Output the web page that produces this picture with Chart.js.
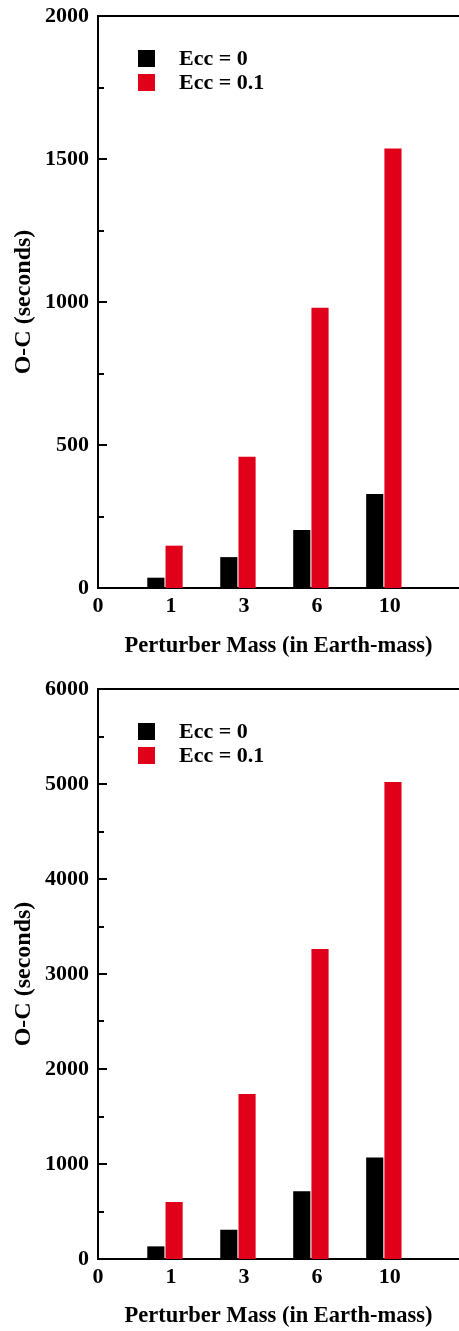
<!DOCTYPE html>
<html>
<head>
<meta charset="utf-8">
<script src="https://cdn.jsdelivr.net/npm/chart.js@4.4.1/dist/chart.umd.min.js"></script>
<style>
  html, body { margin: 0; padding: 0; background: #fff; }
  .panel { position: relative; width: 459px; }
  #topPanel { height: 666px; }
  #bottomPanel { height: 665px; }
</style>
</head>
<body>
<div class="panel" id="topPanel"><canvas id="topChart"></canvas></div>
<div class="panel" id="bottomPanel"><canvas id="bottomChart"></canvas></div>
<script>
// ── Data ─────────────────────────────────────────────────────────
const MASSES = ["1", "3", "6", "10"];          // perturber mass (Earth masses)
const X_TICKS = ["0", "1", "3", "6", "10"];
const SERIES_LABELS = ["Ecc = 0", "Ecc = 0.1"];

const TOP_ECC0  = [36, 108, 203, 329];
const TOP_ECC01 = [148, 459, 980, 1537];
const BOT_ECC0  = [133, 308, 712, 1069];
const BOT_ECC01 = [600, 1737, 3263, 5021];

const TOP_Y = { max: 2000, minor: 250, major: 500 };
const BOT_Y = { max: 6000, minor: 500, major: 1000 };

// x axis runs on tick index; bars sit at index 1..4
const X_MIN = 0.082;
const X_MAX = 5.03;

const BLACK = "#000000";
const RED = "#e0001a";
const FONT = '"Liberation Serif", "DejaVu Serif", serif';

// ── Legend drawn inside the plot area ────────────────────────────
const insideLegend = {
  id: "insideLegend",
  afterDatasetsDraw(chart) {
    const { ctx, chartArea } = chart;
    ctx.save();
    ctx.font = `bold 22px ${FONT}`;
    ctx.textBaseline = "middle";
    chart.data.datasets.forEach((ds, i) => {
      const y = chartArea.top + 34 + i * 24;
      ctx.fillStyle = ds.backgroundColor;
      ctx.fillRect(chartArea.left + 40, y, 17, 17);
      ctx.fillStyle = "#000";
      ctx.fillText(ds.label, chartArea.left + 81, y + 9.5);
    });
    ctx.restore();
  },
};

// ── Inward y ticks: long at labelled values, short in between ────
function inwardTicks(major) {
  return {
    id: "inwardTicks",
    afterDraw(chart) {
      const { ctx } = chart;
      const y = chart.scales.y;
      ctx.save();
      ctx.strokeStyle = "#000";
      ctx.lineWidth = 2;
      y.ticks.forEach((t) => {
        const py = Math.round(y.getPixelForValue(t.value));
        const len = t.value % major === 0 ? 9 : 6;
        ctx.beginPath();
        ctx.moveTo(y.right - 1, py);
        ctx.lineTo(y.right + len, py);
        ctx.stroke();
      });
      ctx.restore();
    },
  };
}

function points(values) {
  return values.map((v, i) => ({ x: i + 1, y: v }));
}

// keep the plot box fixed: no extra room for overhanging labels
function noPad(s) {
  s.paddingTop = 0;
  s.paddingBottom = 0;
  s.paddingLeft = 0;
  s.paddingRight = 0;
}

function makeChart(canvasId, ecc0, ecc01, yCfg, padTop, xHeight, titlePad) {
  const ctx = document.getElementById(canvasId).getContext("2d");
  return new Chart(ctx, {
    type: "bar",
    data: {
      datasets: [
        { label: SERIES_LABELS[0], data: points(ecc0), backgroundColor: BLACK },
        { label: SERIES_LABELS[1], data: points(ecc01), backgroundColor: RED },
      ],
    },
    options: {
      responsive: true,
      maintainAspectRatio: false,
      animation: false,
      layout: { padding: { top: padTop, left: 0, right: 0, bottom: 0 } },
      datasets: { bar: { categoryPercentage: 0.5, barPercentage: 0.94, borderWidth: 0 } },
      plugins: { legend: { display: false }, tooltip: { enabled: false } },
      scales: {
        x: {
          type: "linear",
          position: "bottom",
          min: X_MIN,
          max: X_MAX,
          offset: false,
          afterBuildTicks: (s) => { s.ticks = X_TICKS.map((_, i) => ({ value: i })); },
          afterFit: (s) => { s.height = xHeight; noPad(s); },
          grid: { display: false },
          border: { display: true, color: "#000", width: 2 },
          ticks: {
            autoSkip: false,
            maxRotation: 0,
            labelOffset: 6,
            padding: -3,
            color: "#000",
            font: { family: FONT, size: 22, weight: "bold" },
            callback: (v) => X_TICKS[v],
          },
          title: {
            display: true,
            text: "Perturber Mass (in Earth-mass)",
            color: "#000",
            font: { family: FONT, size: 22.5, weight: "bold" },
            padding: { top: 0, bottom: titlePad },
          },
        },
        xTop: {
          type: "linear",
          position: "top",
          afterFit: (s) => { s.height = 0; noPad(s); },
          grid: { display: false },
          ticks: { display: false },
          border: { display: true, color: "#000", width: 2 },
        },
        y: {
          min: 0,
          max: yCfg.max,
          afterFit: (s) => { s.width = 98; noPad(s); },
          grid: { display: false, drawTicks: false },
          border: { display: true, color: "#000", width: 2 },
          ticks: {
            stepSize: yCfg.minor,
            autoSkip: false,
            padding: 9,
            color: "#000",
            font: { family: FONT, size: 22, weight: "bold" },
            callback: (v) => (v % yCfg.major === 0 ? String(v) : ""),
          },
          title: {
            display: true,
            text: "O-C (seconds)",
            color: "#000",
            font: { family: FONT, size: 24, weight: "bold" },
            padding: { top: 9, bottom: 0 },
          },
        },
      },
    },
    plugins: [insideLegend, inwardTicks(yCfg.major)],
  });
}

const topChart = makeChart("topChart", TOP_ECC0, TOP_ECC01, TOP_Y, 16, 78, 6);
const bottomChart = makeChart("bottomChart", BOT_ECC0, BOT_ECC01, BOT_Y, 23, 72, 1);
</script>
</body>
</html>
